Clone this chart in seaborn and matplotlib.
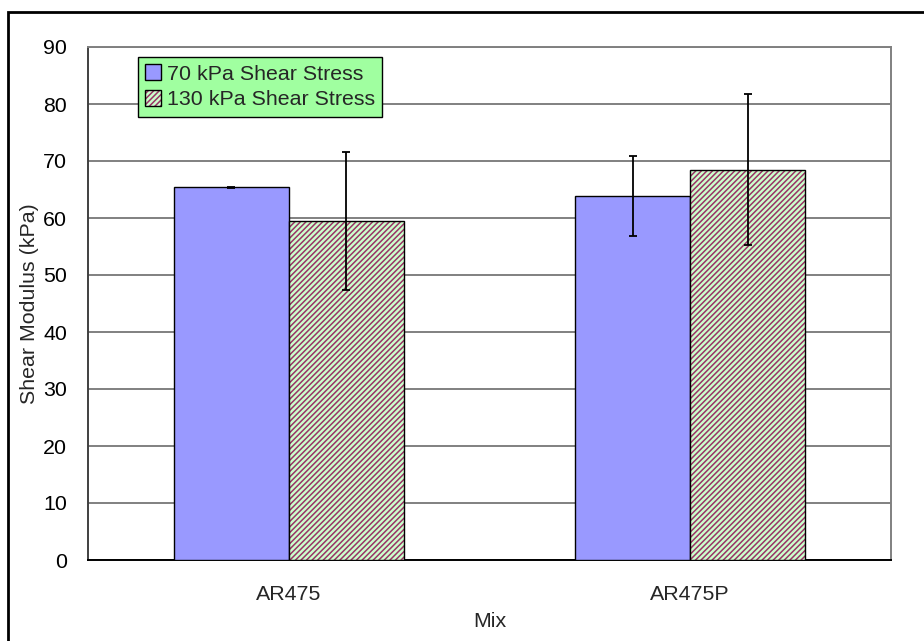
import matplotlib
matplotlib.use("Agg")
import matplotlib.pyplot as plt
import matplotlib.colors as mcolors
from matplotlib.patches import Rectangle
import seaborn as sns
import pandas as pd

# ---- data ----
mixes = ["AR475", "AR475P"]
series = ["70 kPa Shear Stress", "130 kPa Shear Stress"]
modulus_70 = [65.4, 63.8]
modulus_130 = [59.5, 68.5]
err_70 = [0.1, 7.0]
err_130 = [12.1, 13.3]
yticks = [0, 10, 20, 30, 40, 50, 60, 70, 80, 90]

df = pd.DataFrame({
    "Mix": mixes * 2,
    "Stress": [series[0]] * 2 + [series[1]] * 2,
    "Modulus": modulus_70 + modulus_130,
    "Err": err_70 + err_130,
})

sns.set_theme(style="white")
plt.rcParams["font.family"] = ["Liberation Sans", "DejaVu Sans"]
plt.rcParams["hatch.linewidth"] = 1.1

FS = 15.4
fig = plt.figure(figsize=(9.24, 6.41), dpi=100)
ax = fig.add_axes([88 / 924, 1 - 560 / 641, (891 - 88) / 924, (560 - 47) / 641])

blue = "#9999ff"
green = "#ccffcc"
stripe = "#993366"

sns.barplot(data=df, x="Mix", y="Modulus", hue="Stress", hue_order=series,
            order=mixes, palette=[blue, green], saturation=1, edgecolor="black",
            linewidth=1.0, width=0.573, gap=0, errorbar=None, ax=ax, zorder=3)

# hatching on the 130 kPa bars
for p in ax.containers[1].patches:
    p.set_hatch("//////")
    p._hatch_color = mcolors.to_rgba(stripe)

# error bars
for cont, errs in zip(ax.containers, [err_70, err_130]):
    xs = [p.get_x() + p.get_width() / 2 for p in cont.patches]
    ys = [p.get_height() for p in cont.patches]
    ax.errorbar(xs, ys, yerr=errs, fmt="none", ecolor="black", elinewidth=1.3,
                capsize=3, capthick=1.3, zorder=4)

ax.set_ylim(0, 90)
ax.set_xlim(-0.5, 1.5)
ax.set_yticks(yticks)
ax.set_yticklabels([str(v) for v in yticks], fontsize=FS)
ax.tick_params(axis="y", length=3, width=1, direction="out", pad=12, colors="black")
ax.tick_params(axis="x", which="major", length=0, pad=18, labelsize=FS)
ax.set_xticks([0.5], minor=True)
ax.tick_params(axis="x", which="minor", length=7, width=1, direction="in", color="black")

ax.yaxis.grid(True, color="#808080", linewidth=1.4, zorder=0)
ax.xaxis.grid(False)
ax.set_axisbelow(True)

for side, col in [("top", "#808080"), ("right", "#808080"), ("left", "#404040"), ("bottom", "black")]:
    ax.spines[side].set_visible(True)
    ax.spines[side].set_color(col)
    ax.spines[side].set_linewidth(1.4)

ax.set_xlabel("Mix", fontsize=FS, labelpad=6)
ax.set_ylabel("Shear Modulus (kPa)", fontsize=FS, labelpad=3)

leg = ax.legend(handles=list(ax.containers), labels=series, loc="upper left",
                bbox_to_anchor=(0.062, 0.981), fontsize=FS, frameon=True,
                facecolor="#a0ffa0", edgecolor="black", framealpha=1, fancybox=False,
                handlelength=0.75, handleheight=0.75, handletextpad=0.25,
                labelspacing=0.3, borderpad=0.35, borderaxespad=0)
leg.get_frame().set_linewidth(1.0)
leg.set_zorder(5)

# outer chart border
fig.patches.append(Rectangle((8 / 924, -0.1), 1.2, 1.1 - 12 / 641, transform=fig.transFigure,
                             fill=False, edgecolor="black", linewidth=2, zorder=10))

fig.savefig("out.png", dpi=100)
